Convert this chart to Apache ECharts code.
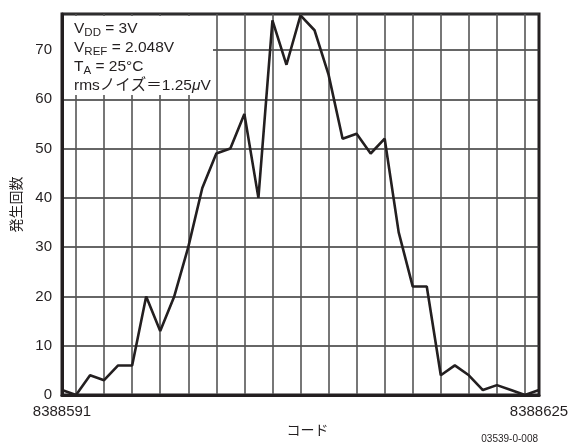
<!DOCTYPE html>
<html>
<head>
<meta charset="utf-8">
<script src="https://cdn.jsdelivr.net/npm/echarts@6/dist/echarts.min.js"></script>
<style>html,body{margin:0;padding:0;background:#fff;}#c{width:576px;height:448px;}</style>
</head>
<body>
<div id="c"></div>
<script>
const codes = [8388591,8388592,8388593,8388594,8388595,8388596,8388597,8388598,8388599,8388600,
  8388601,8388602,8388603,8388604,8388605,8388606,8388607,8388608,8388609,8388610,
  8388611,8388612,8388613,8388614,8388615,8388616,8388617,8388618,8388619,8388620,
  8388621,8388622,8388623,8388624,8388625];
const counts = [1,0,4,3,6,6,20,13,20,30,42,49,50,57,40,76,67,77,74,65,52,53,49,52,33,22,22,4,6,4,1,2,1,0,1];
const yTicks = [0,10,20,30,40,50,60,70];
const xTickLabels = ['8388591','8388625'];

const FONT = '"Liberation Sans", Arial, "Noto Sans CJK JP", sans-serif';
const chart = echarts.init(document.getElementById('c'));
chart.setOption({
  animation: false,
  backgroundColor: '#fff',
  grid: {left: 62, right: 37, top: 14, bottom: 53, show: true, borderColor: '#231f20', borderWidth: 3, backgroundColor: 'transparent'},
  xAxis: {
    type: 'category',
    data: codes.map(String),
    boundaryGap: false,
    name: 'コード',
    nameLocation: 'middle',
    nameGap: 22,
    nameTextStyle: {fontFamily: FONT, fontSize: 14, color: '#231f20', padding: [0,0,0,14]},
    axisLine: {lineStyle: {color: '#231f20', width: 3}},
    axisTick: {show: false},
    axisLabel: {
      interval: (i, v) => xTickLabels.indexOf(v) >= 0,
      margin: 9, fontFamily: FONT, fontSize: 15, color: '#231f20'
    },
    splitLine: {show: true, interval: (i) => i % 2 === 1, lineStyle: {color: '#555', width: 1.6}}
  },
  yAxis: {
    type: 'value',
    min: 0, max: 77.3, interval: 10,
    name: '発生回数',
    nameLocation: 'middle',
    nameGap: 37,
    nameRotate: 90,
    nameTextStyle: {fontFamily: FONT, fontSize: 14, color: '#231f20'},
    axisLine: {show: true, lineStyle: {color: '#231f20', width: 3}},
    axisTick: {show: false},
    axisLabel: {
      margin: 10, fontFamily: FONT, fontSize: 15, color: '#231f20',
      showMaxLabel: false,
      formatter: v => yTicks.indexOf(v) >= 0 ? String(v) : ''
    },
    splitLine: {show: true, lineStyle: {color: '#333', width: 1.6}}
  },
  graphic: [
    {type: 'rect', z: 1, shape: {x: 64, y: 16, width: 149, height: 79}, style: {fill: '#fff'}},
    {type: 'text', z: 3, left: 74, top: 19, style: {
      text: '{v|V}{s|DD}{v| = 3V}\n{v|V}{s|REF}{v| = 2.048V}\n{v|T}{s|A}{v| = 25°C}\n{v|rmsノイズ＝1.25}{i|μ}{v|V}',
      fontFamily: FONT, fontSize: 15.5, fill: '#231f20', lineHeight: 18.8,
      rich: {
        v: {fontFamily: FONT, fontSize: 15.5, fill: '#231f20', lineHeight: 18.8, verticalAlign: 'middle'},
        s: {fontFamily: FONT, fontSize: 11.5, fill: '#231f20', lineHeight: 18.8, verticalAlign: 'bottom', padding: [8,0,0,0]},
        i: {fontFamily: FONT, fontSize: 15.5, fontStyle: 'italic', fill: '#231f20', lineHeight: 18.8, verticalAlign: 'middle'}
      }
    }},
    {type: 'text', right: 38, top: 434, style: {text: '03539-0-008', fontFamily: FONT, fontSize: 10, fill: '#231f20'}}
  ],
  series: [{
    type: 'line',
    data: counts,
    symbol: 'none',
    z: 5,
    lineStyle: {color: '#231f20', width: 2.6}
  }]
});
</script>
</body>
</html>
